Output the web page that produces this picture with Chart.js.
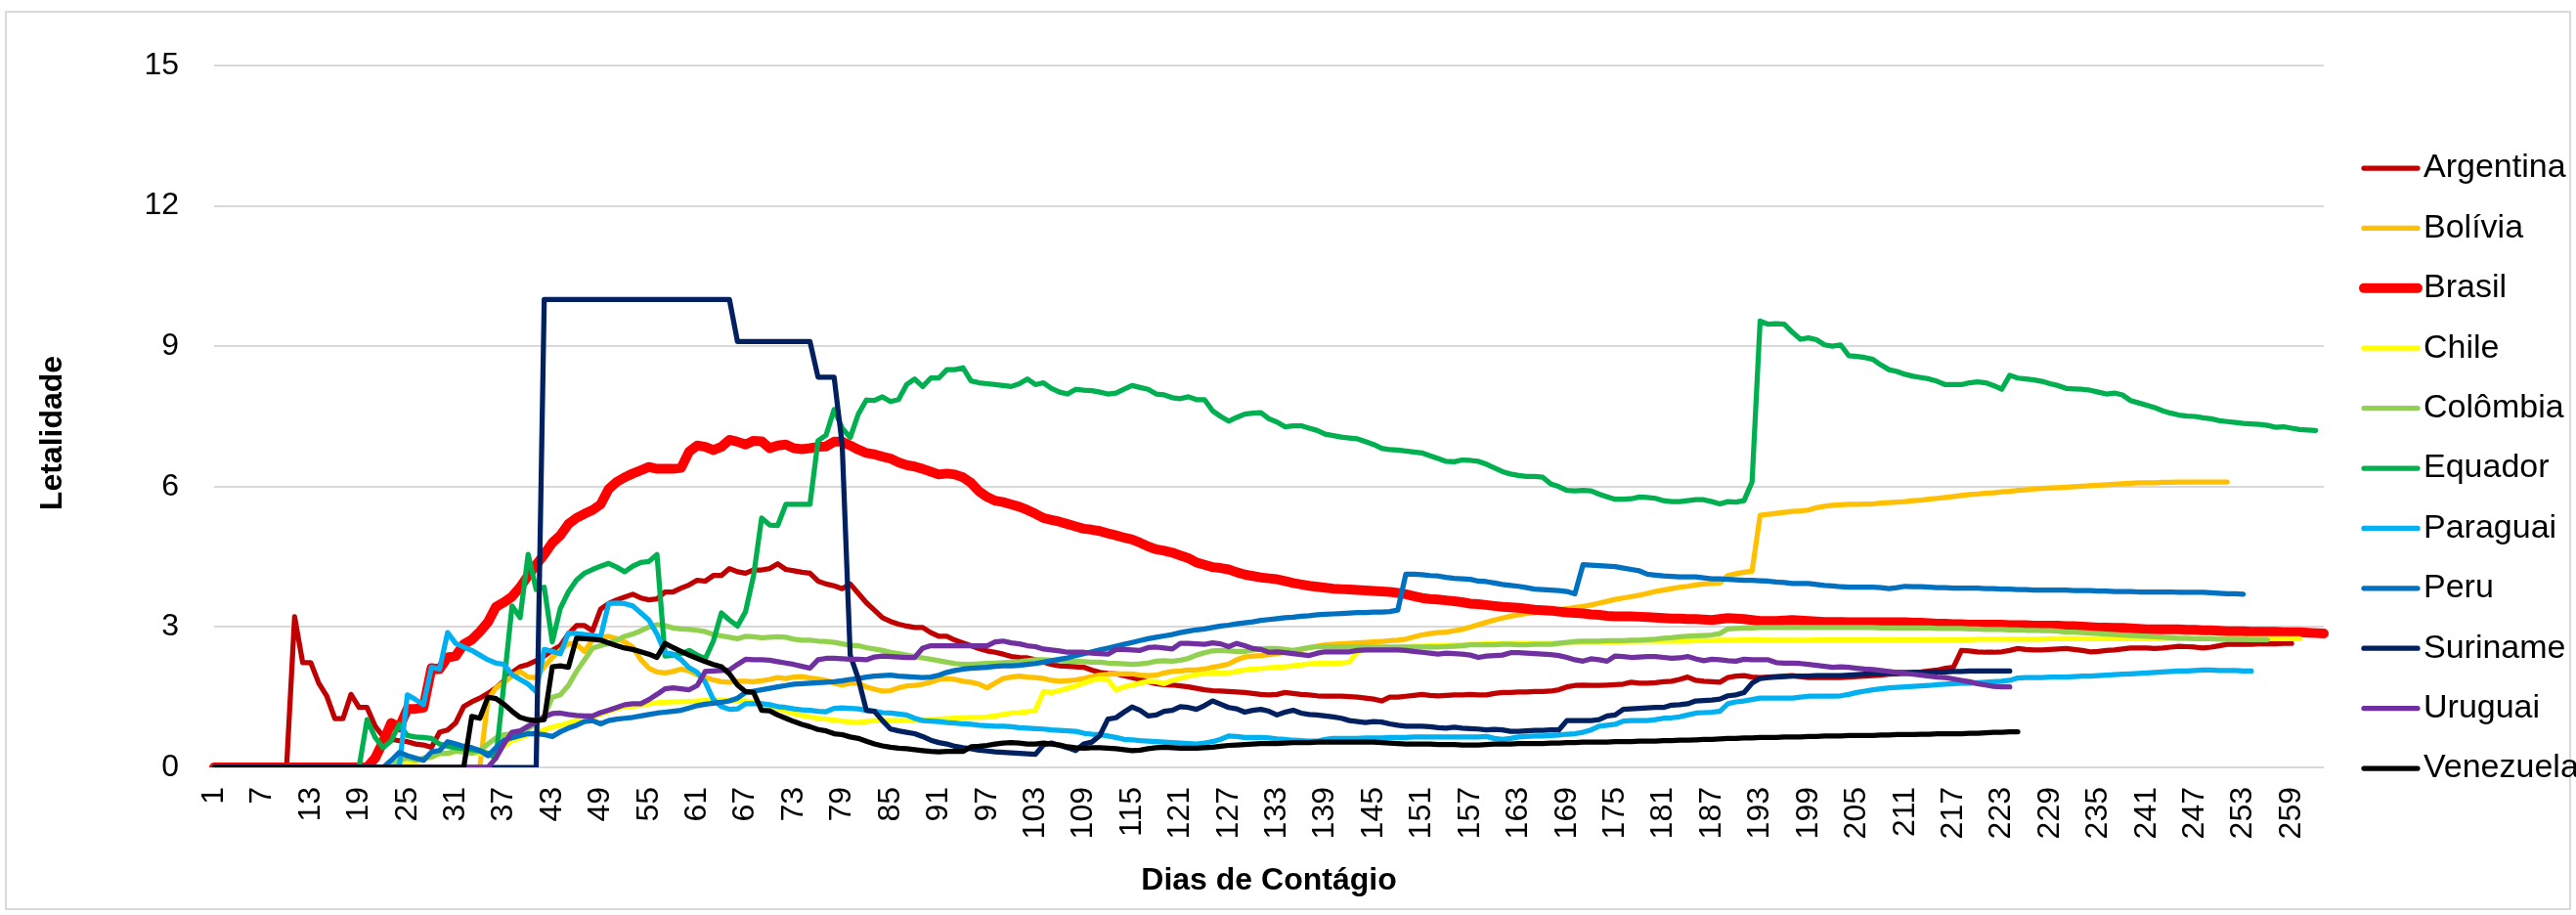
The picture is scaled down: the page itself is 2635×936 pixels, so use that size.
<!DOCTYPE html>
<html lang="pt">
<head>
<meta charset="utf-8">
<title>Letalidade - Dias de Contágio</title>
<script src="https://cdn.jsdelivr.net/npm/chart.js@4.4.0/dist/chart.umd.min.js"></script>
<style>
  html, body { margin: 0; padding: 0; background: #ffffff; }
  canvas { display: block; }
</style>
</head>
<body>
<canvas id="chart-letalidade" width="2635" height="936"></canvas>
<script>
'use strict';

// ── Data ──────────────────────────────────────────────────────
const days = Array.from({ length: 263 }, (_, i) => i + 1);
const yTicks = [0, 3, 6, 9, 12, 15];

const argentina = [
  0,0,0,0,0,0,0,0,0,0,
  3.22,2.24,2.24,1.8,1.52,1.04,1.04,1.56,1.28,1.28,
  0.88,0.66,0.6,0.57,0.55,0.5,0.48,0.43,0.75,0.8,
  0.95,1.3,1.4,1.48,1.58,1.7,1.85,2.03,2.15,2.2,
  2.28,2.38,2.5,2.6,2.85,3.03,3.03,2.92,3.38,3.5,
  3.58,3.64,3.7,3.62,3.58,3.6,3.75,3.75,3.83,3.9,
  4.0,3.98,4.1,4.1,4.25,4.18,4.15,4.22,4.22,4.25,
  4.35,4.23,4.2,4.17,4.15,3.98,3.92,3.88,3.82,3.92,
  3.72,3.52,3.36,3.2,3.12,3.06,3.02,2.99,2.99,2.88,
  2.8,2.8,2.72,2.66,2.6,2.54,2.49,2.46,2.42,2.37,
  2.35,2.34,2.3,2.25,2.2,2.17,2.16,2.15,2.14,2.08,
  2.03,2.01,2.0,1.96,1.92,1.88,1.83,1.79,1.77,1.76,
  1.74,1.72,1.69,1.66,1.64,1.63,1.62,1.61,1.6,1.58,
  1.56,1.55,1.56,1.6,1.58,1.56,1.55,1.53,1.52,1.52,
  1.52,1.51,1.5,1.48,1.46,1.42,1.5,1.5,1.52,1.54,
  1.56,1.54,1.53,1.54,1.55,1.55,1.56,1.55,1.55,1.58,
  1.6,1.6,1.61,1.61,1.62,1.62,1.63,1.66,1.72,1.75,
  1.76,1.75,1.75,1.76,1.77,1.78,1.82,1.8,1.8,1.81,
  1.83,1.84,1.88,1.93,1.86,1.84,1.83,1.82,1.92,1.95,
  1.96,1.93,1.92,1.93,1.94,1.95,1.96,1.94,1.92,1.92,
  1.92,1.92,1.92,1.93,1.94,1.95,1.96,1.97,1.99,2.0,
  2.01,2.03,2.04,2.06,2.08,2.12,2.14,2.5,2.49,2.47,
  2.46,2.46,2.47,2.5,2.54,2.52,2.51,2.51,2.52,2.53,
  2.54,2.52,2.5,2.47,2.48,2.5,2.51,2.53,2.55,2.55,
  2.55,2.54,2.55,2.57,2.59,2.58,2.57,2.55,2.57,2.6,
  2.63,2.63,2.63,2.63,2.64,2.64,2.64,2.65,2.65
];

const bolivia = [
  0,0,0,0,0,0,0,0,0,0,
  0,0,0,0,0,0,0,0,0,0,
  0,0,0,0,0,0,0,0,0,0,
  0,0,0,0,1.45,1.7,1.82,1.95,2.05,1.93,
  1.92,2.15,2.35,2.5,2.65,2.63,2.48,2.72,2.78,2.8,
  2.75,2.68,2.57,2.3,2.12,2.04,2.02,2.05,2.1,2.06,
  1.98,1.92,1.87,1.83,1.82,1.84,1.84,1.83,1.85,1.88,
  1.92,1.9,1.93,1.94,1.91,1.89,1.86,1.8,1.76,1.8,
  1.8,1.72,1.67,1.63,1.64,1.7,1.74,1.75,1.78,1.82,
  1.88,1.9,1.88,1.84,1.82,1.78,1.7,1.8,1.9,1.93,
  1.95,1.93,1.92,1.9,1.86,1.84,1.85,1.87,1.9,1.94,
  1.97,1.99,2.0,2.0,2.0,1.97,1.96,1.97,2.02,2.05,
  2.06,2.08,2.08,2.1,2.14,2.17,2.21,2.3,2.36,2.38,
  2.39,2.41,2.43,2.46,2.48,2.52,2.56,2.59,2.62,2.63,
  2.64,2.65,2.66,2.67,2.68,2.69,2.71,2.72,2.74,2.79,
  2.83,2.86,2.88,2.89,2.92,2.95,3.0,3.05,3.1,3.15,
  3.19,3.23,3.26,3.29,3.31,3.33,3.35,3.37,3.39,3.42,
  3.44,3.47,3.51,3.55,3.59,3.62,3.65,3.68,3.72,3.76,
  3.79,3.82,3.85,3.87,3.9,3.92,3.93,3.94,4.1,4.14,
  4.17,4.19,5.39,5.41,5.43,5.45,5.47,5.48,5.5,5.55,
  5.58,5.6,5.61,5.62,5.62,5.63,5.63,5.65,5.66,5.67,
  5.68,5.7,5.71,5.73,5.75,5.77,5.79,5.81,5.83,5.84,
  5.86,5.87,5.89,5.9,5.92,5.93,5.95,5.96,5.97,5.98,
  5.99,6.0,6.01,6.02,6.03,6.04,6.05,6.06,6.07,6.08,
  6.08,6.08,6.09,6.09,6.1,6.1,6.1,6.1,6.1,6.1,
  6.1
];

const brasil = [
  0,0,0,0,0,0,0,0,0,0,
  0,0,0,0,0,0,0,0,0,0,
  0.2,0.55,0.95,0.85,1.25,1.25,1.28,2.12,2.1,2.35,
  2.38,2.63,2.73,2.9,3.1,3.43,3.53,3.65,3.85,4.1,
  4.33,4.55,4.8,4.96,5.2,5.33,5.42,5.5,5.62,5.95,
  6.1,6.2,6.28,6.35,6.42,6.38,6.38,6.38,6.4,6.75,
  6.88,6.85,6.78,6.85,7.0,6.96,6.9,6.98,6.97,6.82,
  6.88,6.9,6.82,6.8,6.82,6.85,6.86,6.96,6.96,6.88,
  6.79,6.72,6.69,6.64,6.6,6.52,6.46,6.43,6.38,6.32,
  6.26,6.28,6.26,6.2,6.08,5.9,5.78,5.7,5.67,5.62,
  5.57,5.5,5.42,5.33,5.29,5.25,5.2,5.15,5.1,5.08,
  5.05,5.0,4.96,4.91,4.87,4.8,4.72,4.66,4.63,4.59,
  4.53,4.47,4.38,4.33,4.28,4.26,4.23,4.17,4.12,4.09,
  4.06,4.04,4.02,3.98,3.94,3.91,3.88,3.86,3.84,3.82,
  3.81,3.8,3.79,3.78,3.77,3.76,3.75,3.73,3.7,3.66,
  3.62,3.6,3.59,3.57,3.55,3.53,3.5,3.49,3.47,3.45,
  3.43,3.42,3.41,3.39,3.37,3.36,3.35,3.33,3.31,3.3,
  3.29,3.27,3.26,3.24,3.23,3.23,3.23,3.22,3.21,3.2,
  3.19,3.18,3.18,3.17,3.17,3.16,3.15,3.17,3.19,3.18,
  3.17,3.15,3.13,3.13,3.13,3.14,3.15,3.14,3.13,3.12,
  3.11,3.11,3.11,3.1,3.1,3.1,3.1,3.1,3.1,3.1,
  3.1,3.09,3.09,3.08,3.07,3.07,3.06,3.06,3.05,3.05,
  3.05,3.05,3.05,3.04,3.04,3.04,3.03,3.03,3.03,3.03,
  3.02,3.02,3.01,3.0,2.99,2.99,2.98,2.98,2.97,2.96,
  2.95,2.95,2.95,2.95,2.95,2.94,2.94,2.93,2.93,2.92,
  2.91,2.91,2.91,2.9,2.9,2.9,2.9,2.89,2.89,2.89,
  2.88,2.87,2.86
];

const chile = [
  0,0,0,0,0,0,0,0,0,0,
  0,0,0,0,0,0,0,0,0,0,
  0,0,0,0,0.08,0.12,0.18,0.22,0.28,0.3,
  0.33,0.34,0.33,0.3,0.28,0.35,0.45,0.57,0.63,0.7,
  0.75,0.8,0.86,0.9,0.95,1.0,1.04,1.08,1.14,1.2,
  1.26,1.29,1.31,1.33,1.36,1.38,1.39,1.4,1.4,1.41,
  1.42,1.43,1.44,1.44,1.44,1.43,1.42,1.4,1.36,1.3,
  1.26,1.2,1.15,1.11,1.08,1.05,1.03,1.01,0.99,0.97,
  0.96,0.98,1.0,1.0,1.0,1.0,1.0,1.0,1.01,1.02,
  1.03,1.04,1.05,1.06,1.07,1.07,1.08,1.1,1.13,1.16,
  1.17,1.19,1.22,1.62,1.6,1.64,1.69,1.74,1.8,1.86,
  1.9,1.88,1.65,1.72,1.76,1.8,1.84,1.83,1.79,1.86,
  1.9,1.95,1.98,2.0,2.02,2.02,2.02,2.05,2.08,2.1,
  2.11,2.13,2.14,2.15,2.17,2.19,2.21,2.22,2.22,2.23,
  2.23,2.25,2.48,2.51,2.52,2.53,2.55,2.56,2.58,2.59,
  2.59,2.6,2.6,2.61,2.62,2.62,2.63,2.63,2.64,2.64,
  2.65,2.65,2.65,2.65,2.65,2.65,2.65,2.66,2.66,2.66,
  2.67,2.67,2.67,2.68,2.68,2.69,2.69,2.7,2.7,2.7,
  2.7,2.7,2.7,2.7,2.71,2.71,2.71,2.72,2.72,2.72,
  2.73,2.73,2.73,2.72,2.72,2.72,2.72,2.72,2.72,2.73,
  2.73,2.73,2.73,2.73,2.73,2.73,2.73,2.73,2.73,2.73,
  2.73,2.73,2.73,2.73,2.73,2.73,2.73,2.73,2.73,2.74,
  2.74,2.74,2.74,2.74,2.74,2.74,2.74,2.74,2.75,2.75,
  2.75,2.75,2.75,2.75,2.75,2.75,2.75,2.75,2.75,2.75,
  2.75,2.75,2.75,2.75,2.75,2.75,2.75,2.75,2.75,2.75,
  2.75,2.75,2.75,2.75,2.75,2.75,2.75,2.75,2.75,2.75
];

const colombia = [
  0,0,0,0,0,0,0,0,0,0,
  0,0,0,0,0,0,0,0,0,0,
  0,0,0,0.15,0.2,0.15,0.2,0.22,0.3,0.3,
  0.35,0.33,0.3,0.35,0.5,0.63,0.7,0.72,0.76,0.82,
  0.95,1.1,1.5,1.55,1.75,2.05,2.3,2.55,2.6,2.65,
  2.72,2.8,2.85,2.92,3.0,3.05,3.03,2.98,2.96,2.95,
  2.93,2.9,2.84,2.81,2.78,2.75,2.8,2.79,2.77,2.78,
  2.79,2.78,2.74,2.72,2.72,2.7,2.69,2.67,2.64,2.61,
  2.6,2.56,2.53,2.5,2.46,2.43,2.4,2.37,2.34,2.31,
  2.28,2.25,2.22,2.2,2.2,2.21,2.22,2.23,2.24,2.25,
  2.26,2.28,2.3,2.3,2.29,2.28,2.27,2.27,2.26,2.25,
  2.25,2.23,2.22,2.21,2.2,2.21,2.23,2.27,2.28,2.27,
  2.29,2.33,2.4,2.45,2.49,2.5,2.49,2.48,2.48,2.51,
  2.53,2.54,2.54,2.52,2.5,2.53,2.56,2.58,2.58,2.57,
  2.57,2.57,2.57,2.57,2.57,2.57,2.57,2.57,2.57,2.57,
  2.57,2.57,2.57,2.58,2.59,2.6,2.62,2.62,2.62,2.62,
  2.63,2.63,2.62,2.62,2.63,2.63,2.63,2.65,2.67,2.69,
  2.7,2.7,2.7,2.71,2.71,2.71,2.72,2.72,2.73,2.74,
  2.76,2.77,2.79,2.8,2.81,2.82,2.83,2.86,2.96,2.97,
  2.98,2.98,2.99,2.99,2.99,2.99,2.99,2.99,2.99,2.99,
  2.99,2.99,2.99,2.99,2.99,2.99,2.99,2.98,2.98,2.98,
  2.98,2.98,2.98,2.98,2.97,2.97,2.97,2.97,2.96,2.96,
  2.95,2.95,2.95,2.94,2.94,2.93,2.93,2.92,2.92,2.91,
  2.89,2.89,2.88,2.87,2.86,2.85,2.84,2.83,2.82,2.81,
  2.8,2.79,2.78,2.77,2.76,2.76,2.75,2.75,2.75,2.74,
  2.74,2.74,2.74,2.73,2.73,2.73
];

const equador = [
  0,0,0,0,0,0,0,0,0,0,
  0,0,0,0,0,0,0,0,0,1.02,
  0.64,0.42,0.57,0.92,0.68,0.65,0.64,0.62,0.5,0.45,
  0.42,0.4,0.38,0.35,0.3,0.2,1.8,3.45,3.2,4.55,
  3.8,3.85,2.68,3.4,3.75,4.0,4.15,4.23,4.3,4.36,
  4.28,4.18,4.3,4.38,4.4,4.55,2.38,2.4,2.43,2.5,
  2.4,2.32,2.7,3.3,3.15,3.02,3.33,4.1,5.33,5.18,
  5.17,5.62,5.62,5.62,5.62,6.98,7.1,7.65,7.25,7.05,
  7.55,7.85,7.84,7.92,7.82,7.86,8.18,8.3,8.14,8.32,
  8.32,8.5,8.5,8.54,8.26,8.22,8.2,8.18,8.16,8.14,
  8.2,8.3,8.18,8.22,8.1,8.02,7.98,8.08,8.06,8.05,
  8.02,7.98,8.0,8.08,8.16,8.12,8.08,7.98,7.96,7.9,
  7.88,7.92,7.86,7.86,7.62,7.5,7.4,7.48,7.55,7.57,
  7.58,7.45,7.38,7.28,7.3,7.3,7.25,7.2,7.12,7.09,
  7.06,7.04,7.02,6.96,6.9,6.82,6.79,6.78,6.76,6.74,
  6.72,6.66,6.6,6.54,6.53,6.57,6.56,6.54,6.48,6.4,
  6.32,6.27,6.24,6.22,6.22,6.2,6.06,6.0,5.92,5.91,
  5.92,5.91,5.84,5.78,5.73,5.73,5.74,5.78,5.77,5.75,
  5.7,5.68,5.68,5.7,5.72,5.72,5.68,5.63,5.68,5.67,
  5.7,6.1,9.54,9.47,9.48,9.47,9.3,9.15,9.18,9.14,
  9.03,9.0,9.03,8.8,8.78,8.76,8.72,8.6,8.5,8.46,
  8.4,8.36,8.33,8.3,8.25,8.18,8.18,8.18,8.22,8.24,
  8.22,8.16,8.08,8.38,8.32,8.3,8.28,8.25,8.2,8.16,
  8.1,8.09,8.08,8.06,8.02,7.98,8.0,7.96,7.84,7.79,
  7.74,7.69,7.62,7.57,7.53,7.51,7.5,7.47,7.45,7.41,
  7.39,7.37,7.35,7.34,7.33,7.31,7.27,7.28,7.25,7.22,7.21,7.2
];

const paraguai = [
  0,0,0,0,0,0,0,0,0,0,
  0,0,0,0,0,0,0,0,0,0,
  0,0,0,0,1.55,1.45,1.34,2.14,2.1,2.88,
  2.65,2.57,2.5,2.4,2.3,2.23,2.2,1.98,1.88,1.78,
  1.62,2.52,2.48,2.43,2.87,2.86,2.84,2.82,2.79,3.5,
  3.51,3.5,3.45,3.3,3.15,2.85,2.45,2.42,2.3,2.13,
  2.03,1.82,1.45,1.3,1.24,1.25,1.36,1.36,1.36,1.34,
  1.3,1.28,1.25,1.23,1.22,1.2,1.19,1.26,1.27,1.26,
  1.25,1.22,1.2,1.17,1.16,1.14,1.12,1.05,1.0,0.99,
  0.98,0.96,0.95,0.93,0.92,0.9,0.89,0.88,0.88,0.87,
  0.85,0.84,0.83,0.82,0.8,0.79,0.78,0.77,0.73,0.71,
  0.7,0.67,0.64,0.6,0.59,0.57,0.56,0.55,0.54,0.53,
  0.52,0.51,0.5,0.52,0.55,0.6,0.67,0.66,0.64,0.64,
  0.64,0.63,0.61,0.6,0.58,0.57,0.56,0.56,0.6,0.62,
  0.62,0.62,0.62,0.63,0.63,0.63,0.64,0.64,0.64,0.65,
  0.65,0.65,0.65,0.65,0.65,0.65,0.65,0.65,0.66,0.62,
  0.6,0.62,0.65,0.66,0.67,0.67,0.68,0.69,0.71,0.72,
  0.75,0.8,0.88,0.9,0.92,0.99,1.0,1.0,1.0,1.02,
  1.05,1.06,1.08,1.12,1.16,1.17,1.18,1.2,1.36,1.4,
  1.42,1.45,1.48,1.48,1.48,1.48,1.48,1.5,1.52,1.52,
  1.52,1.52,1.53,1.56,1.6,1.63,1.66,1.68,1.7,1.71,
  1.72,1.73,1.74,1.75,1.77,1.78,1.79,1.8,1.8,1.81,
  1.82,1.83,1.84,1.86,1.91,1.92,1.92,1.92,1.93,1.93,
  1.93,1.94,1.95,1.95,1.96,1.97,1.98,1.99,2.0,2.01,
  2.02,2.03,2.04,2.05,2.06,2.06,2.07,2.08,2.08,2.07,
  2.07,2.07,2.06,2.06
];

const peru = [
  0,0,0,0,0,0,0,0,0,0,
  0,0,0,0,0,0,0,0,0,0,
  0,0,0.15,0.32,0.25,0.2,0.15,0.33,0.36,0.55,
  0.5,0.45,0.42,0.36,0.25,0.42,0.58,0.63,0.68,0.72,
  0.72,0.7,0.66,0.76,0.84,0.9,0.98,1.0,0.93,1.0,
  1.03,1.05,1.07,1.1,1.13,1.16,1.18,1.2,1.22,1.27,
  1.32,1.35,1.37,1.39,1.42,1.48,1.6,1.63,1.66,1.69,
  1.72,1.75,1.78,1.79,1.8,1.81,1.82,1.83,1.85,1.88,
  1.9,1.93,1.95,1.96,1.97,1.95,1.94,1.93,1.92,1.93,
  1.97,2.03,2.07,2.1,2.12,2.13,2.14,2.16,2.17,2.17,
  2.18,2.2,2.22,2.25,2.28,2.31,2.34,2.39,2.43,2.47,
  2.51,2.55,2.59,2.63,2.67,2.71,2.75,2.78,2.81,2.84,
  2.88,2.91,2.94,2.96,2.99,3.02,3.04,3.07,3.09,3.11,
  3.14,3.16,3.18,3.2,3.21,3.23,3.24,3.26,3.27,3.28,
  3.29,3.3,3.31,3.31,3.32,3.32,3.33,3.36,4.13,4.13,
  4.12,4.1,4.09,4.06,4.04,4.03,4.02,3.98,3.97,3.94,
  3.91,3.89,3.87,3.84,3.81,3.8,3.79,3.78,3.76,3.71,
  4.33,4.32,4.31,4.3,4.29,4.26,4.23,4.2,4.13,4.11,
  4.09,4.08,4.07,4.07,4.07,4.05,4.03,4.03,4.02,4.01,
  4.0,4.0,3.99,3.98,3.96,3.95,3.93,3.93,3.93,3.91,
  3.89,3.88,3.86,3.85,3.85,3.85,3.85,3.84,3.82,3.84,
  3.87,3.86,3.86,3.85,3.84,3.84,3.83,3.83,3.83,3.83,
  3.82,3.82,3.81,3.81,3.8,3.8,3.79,3.79,3.79,3.79,
  3.79,3.78,3.78,3.78,3.77,3.77,3.76,3.76,3.76,3.75,
  3.75,3.75,3.75,3.75,3.74,3.74,3.74,3.74,3.73,3.72,
  3.71,3.71,3.7
];

const suriname = [
  0,0,0,0,0,0,0,0,0,0,
  0,0,0,0,0,0,0,0,0,0,
  0,0,0,0,0,0,0,0,0,0,
  0,0,0,0,0,0,0,0,0,0,
  0,10,10,10,10,10,10,10,10,10,
  10,10,10,10,10,10,10,10,10,10,
  10,10,10,10,10,9.1,9.1,9.1,9.1,9.1,
  9.1,9.1,9.1,9.1,9.1,8.34,8.34,8.34,6.9,2.4,
  1.9,1.22,1.2,1.0,0.82,0.78,0.75,0.72,0.66,0.58,
  0.53,0.5,0.45,0.42,0.4,0.37,0.35,0.33,0.32,0.31,
  0.3,0.29,0.28,0.48,0.52,0.47,0.42,0.36,0.5,0.54,
  0.68,1.03,1.06,1.18,1.29,1.22,1.1,1.12,1.2,1.22,
  1.3,1.28,1.24,1.32,1.42,1.35,1.28,1.25,1.18,1.22,
  1.24,1.2,1.12,1.18,1.22,1.16,1.13,1.12,1.1,1.08,
  1.05,1.0,0.98,0.96,0.98,0.97,0.93,0.9,0.88,0.88,
  0.88,0.87,0.85,0.84,0.86,0.84,0.83,0.82,0.8,0.81,
  0.8,0.77,0.77,0.78,0.79,0.79,0.8,0.8,1.0,1.0,
  1.0,1.0,1.02,1.1,1.12,1.24,1.25,1.26,1.27,1.28,
  1.28,1.33,1.34,1.36,1.42,1.43,1.44,1.46,1.53,1.55,
  1.6,1.8,1.9,1.92,1.93,1.94,1.95,1.95,1.95,1.96,
  1.96,1.96,1.96,1.97,1.98,1.99,2.0,2.01,2.02,2.03,
  2.03,2.03,2.03,2.04,2.04,2.04,2.05,2.05,2.06,2.06,
  2.06,2.06,2.06,2.06
];

const uruguai = [
  0,0,0,0,0,0,0,0,0,0,
  0,0,0,0,0,0,0,0,0,0,
  0,0,0,0,0,0,0,0,0,0,
  0,0,0,0,0,0.2,0.5,0.75,0.78,0.88,
  0.98,1.08,1.15,1.16,1.13,1.11,1.1,1.1,1.17,1.22,
  1.28,1.34,1.36,1.36,1.45,1.56,1.68,1.7,1.68,1.66,
  1.75,2.05,2.06,2.07,2.08,2.2,2.31,2.3,2.3,2.29,
  2.26,2.23,2.2,2.16,2.12,2.3,2.33,2.33,2.32,2.31,
  2.31,2.3,2.36,2.38,2.37,2.36,2.35,2.35,2.55,2.6,
  2.6,2.6,2.6,2.6,2.6,2.6,2.6,2.68,2.7,2.66,
  2.64,2.6,2.58,2.53,2.51,2.49,2.46,2.46,2.46,2.44,
  2.43,2.42,2.52,2.52,2.51,2.5,2.56,2.57,2.55,2.53,
  2.65,2.65,2.64,2.63,2.66,2.64,2.58,2.65,2.6,2.54,
  2.52,2.46,2.47,2.45,2.43,2.41,2.39,2.44,2.47,2.47,
  2.47,2.47,2.5,2.51,2.51,2.51,2.51,2.51,2.5,2.48,
  2.46,2.44,2.42,2.44,2.43,2.42,2.4,2.35,2.38,2.39,
  2.4,2.45,2.45,2.44,2.43,2.42,2.41,2.39,2.35,2.3,
  2.27,2.32,2.3,2.27,2.38,2.37,2.35,2.36,2.37,2.37,
  2.35,2.33,2.34,2.37,2.32,2.28,2.31,2.3,2.28,2.27,
  2.31,2.3,2.3,2.3,2.24,2.23,2.23,2.22,2.2,2.18,
  2.16,2.14,2.15,2.14,2.12,2.1,2.09,2.07,2.05,2.03,
  2.01,1.99,1.97,1.95,1.93,1.92,1.89,1.86,1.83,1.79,
  1.76,1.73,1.72,1.72
];

const venezuela = [
  0,0,0,0,0,0,0,0,0,0,
  0,0,0,0,0,0,0,0,0,0,
  0,0,0,0,0,0,0,0,0,0,
  0,0,1.09,1.05,1.5,1.47,1.35,1.2,1.07,1.02,
  1.0,1.02,2.15,2.17,2.14,2.76,2.75,2.74,2.72,2.66,
  2.6,2.55,2.52,2.47,2.42,2.35,2.65,2.56,2.48,2.4,
  2.33,2.26,2.2,2.15,2.0,1.76,1.62,1.6,1.22,1.21,
  1.12,1.05,0.98,0.92,0.87,0.81,0.78,0.72,0.7,0.65,
  0.62,0.56,0.5,0.46,0.43,0.41,0.4,0.38,0.36,0.34,
  0.33,0.34,0.34,0.34,0.44,0.45,0.47,0.5,0.52,0.53,
  0.52,0.5,0.5,0.52,0.5,0.48,0.44,0.42,0.41,0.42,
  0.42,0.41,0.4,0.38,0.36,0.37,0.4,0.42,0.43,0.42,
  0.41,0.41,0.41,0.42,0.43,0.45,0.47,0.48,0.49,0.5,
  0.51,0.51,0.51,0.52,0.53,0.53,0.53,0.54,0.54,0.54,
  0.54,0.54,0.54,0.54,0.54,0.53,0.52,0.51,0.5,0.5,
  0.5,0.5,0.49,0.49,0.49,0.48,0.48,0.48,0.49,0.5,
  0.5,0.5,0.51,0.51,0.51,0.51,0.52,0.52,0.53,0.53,
  0.54,0.54,0.54,0.54,0.55,0.55,0.55,0.56,0.56,0.56,
  0.57,0.57,0.58,0.58,0.59,0.6,0.6,0.61,0.62,0.62,
  0.63,0.63,0.64,0.64,0.64,0.65,0.65,0.65,0.66,0.66,
  0.67,0.67,0.67,0.68,0.68,0.68,0.68,0.69,0.69,0.7,
  0.7,0.7,0.71,0.71,0.72,0.72,0.72,0.72,0.73,0.73,
  0.74,0.75,0.75,0.76,0.76
];

const countries = ['Argentina', 'Bolívia', 'Brasil', 'Chile', 'Colômbia', 'Equador',
                   'Paraguai', 'Peru', 'Suriname', 'Uruguai', 'Venezuela'];
const seriesData = [argentina, bolivia, brasil, chile, colombia, equador,
                    paraguai, peru, suriname, uruguai, venezuela];
const colors = ['#C00000', '#FFC000', '#FF0000', '#FFFF00', '#92D050', '#00B050',
                '#00B0F0', '#0070C0', '#002060', '#7030A0', '#000000'];
const widths = [5.25, 5.25, 10, 5.25, 5.25, 5.25, 5.25, 5.25, 5.25, 5.25, 5.25];

// ── Look ──────────────────────────────────────────────────────
const FONT = "'Liberation Sans', Arial, sans-serif";
const GRID = '#D9D9D9';
const TEXT = '#000000';

// legend drawn by hand at the right, Excel style
const sideLegend = {
  id: 'sideLegend',
  afterDraw(chart) {
    const { ctx } = chart;
    const x0 = 2418, x1 = 2473, textX = 2479, top = 172, step = 61.4;
    ctx.save();
    ctx.font = `34px ${FONT}`;
    ctx.textBaseline = 'middle';
    ctx.textAlign = 'left';
    ctx.lineCap = 'round';
    chart.data.datasets.forEach((ds, i) => {
      const y = top + i * step;
      ctx.strokeStyle = ds.borderColor;
      ctx.lineWidth = ds.borderWidth;
      ctx.beginPath();
      ctx.moveTo(x0, y);
      ctx.lineTo(x1, y);
      ctx.stroke();
      ctx.fillStyle = TEXT;
      ctx.fillText(ds.label, textX, y);
    });
    ctx.restore();
  }
};

// y title sits a bit below the plot centre in the original
const yTitle = {
  id: 'yTitle',
  afterDraw(chart) {
    const { ctx } = chart;
    ctx.save();
    ctx.translate(54, 443);
    ctx.rotate(-Math.PI / 2);
    ctx.font = `bold 32px ${FONT}`;
    ctx.fillStyle = TEXT;
    ctx.textAlign = 'center';
    ctx.textBaseline = 'middle';
    ctx.fillText('Letalidade', 0, 0);
    ctx.restore();
  }
};

const frame = {
  id: 'frame',
  beforeDraw(chart) {
    const { ctx, width, height } = chart;
    ctx.save();
    ctx.fillStyle = '#ffffff';
    ctx.fillRect(0, 0, width, height);
    ctx.strokeStyle = GRID;
    ctx.lineWidth = 2;
    ctx.strokeRect(6, 12, width - 12, height - 18);
    ctx.restore();
  }
};

// ── Chart ─────────────────────────────────────────────────────
const datasets = countries.map((name, i) => ({
  label: name,
  data: seriesData[i],
  borderColor: colors[i],
  backgroundColor: colors[i],
  borderWidth: widths[i],
  order: countries.length - i   // later series drawn on top
}));

new Chart(document.getElementById('chart-letalidade').getContext('2d'), {
  type: 'line',
  data: { labels: days, datasets },
  options: {
    responsive: false,
    animation: false,
    devicePixelRatio: 1,
    layout: { padding: { top: 67, right: 258, left: 0, bottom: 0 } },
    elements: {
      point: { radius: 0, hoverRadius: 0 },
      line: { tension: 0, fill: false, borderJoinStyle: 'round', borderCapStyle: 'round' }
    },
    plugins: { legend: { display: false }, tooltip: { enabled: false } },
    scales: {
      x: {
        type: 'category',
        offset: false,
        grid: { display: false, drawTicks: false },
        border: { display: false },
        ticks: {
          autoSkip: false, maxRotation: 90, minRotation: 90, padding: 20,
          color: TEXT, font: { family: FONT, size: 32 },
          callback: (value, index) => (index % 6 === 0 ? String(days[index]) : '')
        },
        title: {
          display: true, text: 'Dias de Contágio', color: TEXT,
          font: { family: FONT, size: 32, weight: 'bold' },
          padding: { top: 0, bottom: 16 }
        },
        afterFit: scale => { scale.height = 151; }
      },
      y: {
        min: yTicks[0], max: yTicks[yTicks.length - 1],
        grid: { color: GRID, lineWidth: 2, drawTicks: false },
        border: { display: false },
        afterBuildTicks: scale => { scale.ticks = yTicks.map(v => ({ value: v })); },
        ticks: { padding: 36, color: TEXT, font: { family: FONT, size: 32 } },
        afterFit: scale => { scale.width = 219; }
      }
    }
  },
  plugins: [frame, sideLegend, yTitle]
});
</script>
</body>
</html>
